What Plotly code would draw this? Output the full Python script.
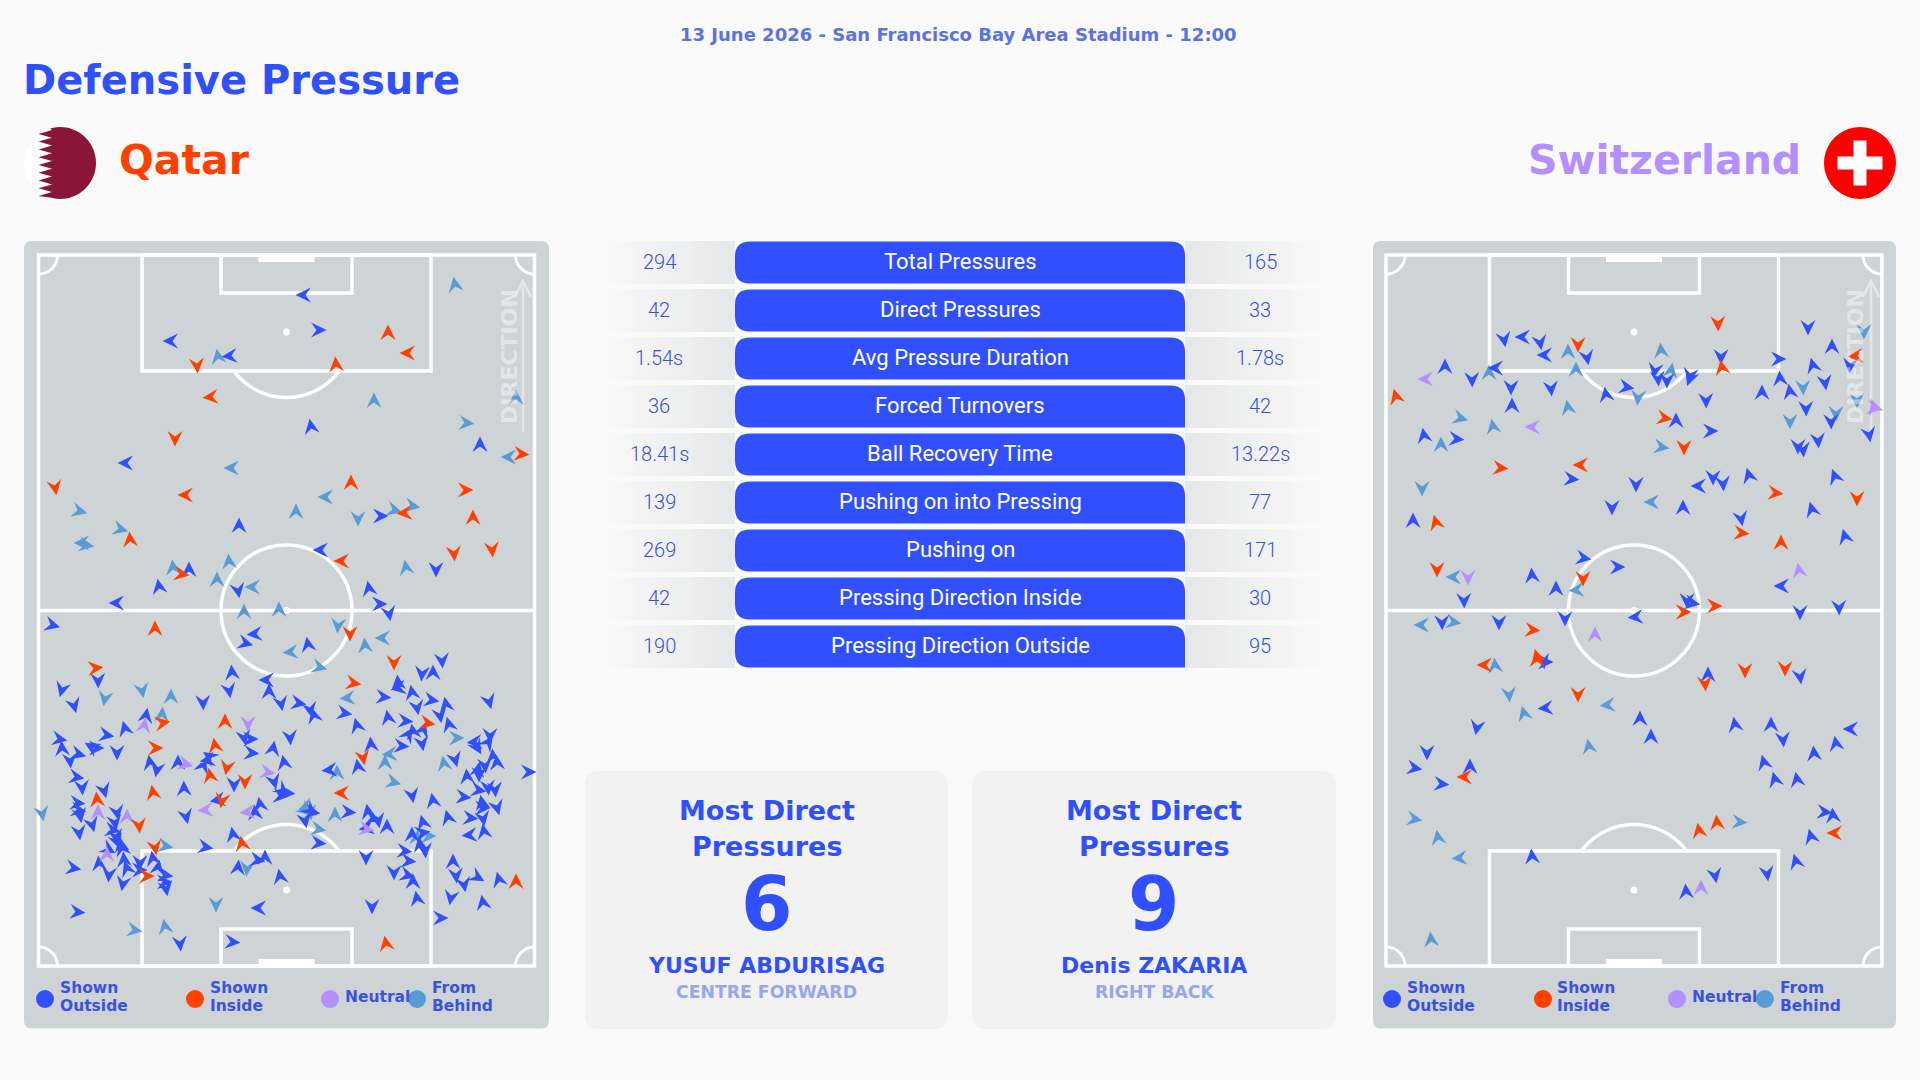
import math
import plotly.graph_objects as go

BG = "#fafafa"
BLUE = "#304ffe"
ORANGE = "#ff4000"
PURPLE = "#b48fff"
SKY = "#5b9bd5"
PANEL = "#ced3d5"
FADED = "#96a6ef"
WIDE = "DejaVu Sans"
NARROW = "Roboto"

match_line = "13 June 2026 - San Francisco Bay Area Stadium - 12:00"
chart_title = "Defensive Pressure"
team_home = "Qatar"
team_away = "Switzerland"

stat_names = ["Total Pressures", "Direct Pressures", "Avg Pressure Duration", "Forced Turnovers",
              "Ball Recovery Time", "Pushing on into Pressing", "Pushing on",
              "Pressing Direction Inside", "Pressing Direction Outside"]
stat_home = ["294", "42", "1.54s", "36", "18.41s", "139", "269", "42", "190"]
stat_away = ["165", "33", "1.78s", "42", "13.22s", "77", "171", "30", "95"]

card_title = ["Most Direct", "Pressures"]
card_values = ["6", "9"]
card_players = ["YUSUF ABDURISAG", "Denis ZAKARIA"]
card_roles = ["CENTRE FORWARD", "RIGHT BACK"]

# every pressure is (x, y, heading), heading in degrees: 0 up, 90 right
qatar_outside = [
    (304, 295, 270), (318, 330, 90), (171, 341, 270), (230, 356, 265), (311, 427, 350), (480, 445, 0),
    (126, 463, 270), (239, 526, 0), (321, 550, 270), (189, 570, 0), (159, 587, 350), (238, 590, 170),
    (117, 603, 270), (369, 589, 350), (379, 604, 90), (389, 613, 170), (436, 569, 180), (52, 625, 105),
    (255, 634, 265), (245, 643, 105), (308, 645, 350), (380, 516, 90),
    (98, 680, 178), (62, 689, 195), (74, 705, 165), (146, 716, 10), (125, 729, 345), (106, 735, 100),
    (59, 739, 100), (62, 749, 355), (70, 760, 175), (78, 754, 105), (92, 747, 300), (96, 748, 90),
    (117, 752, 180), (150, 763, 350), (157, 769, 190), (76, 777, 100), (82, 787, 175), (104, 790, 165),
    (77, 803, 95), (78, 810, 100), (80, 815, 170), (79, 832, 172), (92, 824, 165), (117, 812, 170),
    (115, 822, 170), (112, 830, 100), (116, 836, 170), (117, 841, 160), (121, 845, 350), (122, 849, 345),
    (108, 849, 120), (124, 860, 355), (127, 869, 340), (99, 864, 355), (109, 874, 185), (123, 883, 190),
    (140, 862, 180), (139, 870, 90), (153, 859, 350), (158, 868, 10), (165, 875, 100), (164, 882, 90),
    (166, 888, 170), (73, 868, 100), (77, 912, 95), (186, 816, 168), (184, 789, 358), (178, 763, 0),
    (208, 760, 260), (210, 757, 305), (203, 766, 20), (234, 784, 180), (218, 800, 260), (232, 673, 355),
    (229, 690, 170), (203, 702, 178), (267, 680, 270), (269, 692, 0), (281, 703, 170), (244, 737, 170),
    (250, 739, 90), (251, 753, 95), (273, 749, 10), (284, 763, 350), (274, 781, 165), (282, 790, 130),
    (287, 793, 95), (280, 796, 95), (260, 805, 350), (255, 813, 355), (233, 835, 350), (205, 847, 100),
    (238, 868, 5), (257, 860, 100), (265, 858, 0), (280, 877, 350), (259, 908, 270),
    (442, 660, 175), (422, 673, 185), (433, 673, 0), (398, 683, 355), (399, 688, 260), (412, 693, 350),
    (383, 697, 95), (431, 700, 100), (417, 707, 170), (446, 705, 350), (440, 715, 170), (489, 701, 165),
    (298, 703, 100), (310, 709, 170), (314, 716, 345), (344, 713, 100), (357, 726, 345), (290, 737, 175),
    (388, 718, 350), (405, 721, 95), (449, 725, 345), (408, 735, 30), (413, 732, 350), (423, 730, 20),
    (422, 743, 170), (401, 746, 95), (371, 745, 355), (358, 767, 350), (330, 770, 265), (455, 759, 165),
    (475, 742, 265), (477, 747, 150), (490, 735, 180), (488, 743, 35), (493, 757, 355), (497, 763, 355),
    (467, 777, 355), (478, 770, 10), (485, 765, 175), (479, 774, 180), (478, 790, 100), (488, 787, 175),
    (495, 789, 175), (463, 797, 95), (482, 803, 350), (482, 808, 90), (497, 807, 165), (470, 818, 95),
    (483, 818, 170), (484, 832, 350), (470, 835, 265), (448, 818, 345), (433, 801, 350), (412, 795, 170),
    (348, 812, 95), (368, 812, 350), (372, 818, 95), (378, 820, 170), (387, 827, 0), (367, 828, 260),
    (423, 823, 345), (412, 835, 0), (422, 833, 80), (425, 850, 175), (420, 845, 350), (404, 851, 95),
    (408, 861, 95), (394, 872, 180), (407, 875, 105), (413, 882, 0), (366, 857, 180), (318, 843, 95),
    (453, 862, 0), (456, 875, 175), (464, 884, 170), (477, 877, 120), (499, 880, 345), (417, 899, 350),
    (451, 897, 190), (483, 903, 350), (372, 906, 180), (440, 918, 90), (528, 772, 90), (310, 810, 130),
    (305, 820, 170), (312, 812, 100), (180, 943, 175), (232, 942, 95),
]
qatar_inside = [
    (197, 365, 175), (388, 333, 0), (408, 353, 270), (336, 365, 355), (211, 397, 265), (521, 454, 95),
    (175, 438, 180), (55, 487, 170), (186, 495, 270), (351, 483, 0), (465, 490, 90), (473, 518, 0),
    (405, 513, 265), (130, 540, 355), (342, 561, 270), (181, 574, 100), (454, 553, 175), (492, 549, 175),
    (155, 629, 0), (350, 633, 180),
    (95, 668, 85), (162, 723, 80), (225, 722, 0), (155, 748, 90), (215, 746, 350), (227, 767, 190),
    (210, 776, 350), (245, 781, 180), (153, 793, 350), (97, 800, 355), (222, 800, 190), (139, 825, 175),
    (155, 847, 170), (242, 844, 350), (146, 876, 90),
    (394, 662, 180), (353, 683, 100), (427, 723, 100), (363, 757, 170), (342, 793, 270), (516, 882, 0),
    (386, 944, 350),
]
qatar_neutral = [
    (144, 726, 10), (185, 764, 105), (267, 772, 100), (248, 723, 180), (206, 810, 265), (98, 813, 0),
    (127, 817, 0), (248, 812, 265), (107, 855, 0), (366, 829, 100),
]
qatar_behind = [
    (455, 285, 350), (218, 357, 350), (374, 401, 0), (516, 398, 0), (466, 423, 95), (509, 457, 270),
    (232, 468, 270), (326, 497, 270), (296, 512, 0), (358, 518, 180), (394, 510, 105), (412, 506, 100),
    (79, 511, 105), (120, 529, 105), (82, 543, 270), (86, 545, 100), (229, 562, 355), (173, 568, 355),
    (217, 580, 0), (253, 587, 270), (279, 610, 0), (244, 612, 0), (406, 568, 350), (338, 625, 185),
    (291, 652, 265), (365, 646, 355), (383, 638, 270),
    (105, 698, 190), (142, 690, 170), (171, 697, 0), (162, 715, 5), (42, 813, 170), (165, 846, 100),
    (247, 868, 185), (216, 904, 180), (134, 930, 100), (165, 927, 350),
    (319, 667, 105), (348, 698, 265), (456, 738, 90), (390, 754, 265), (385, 763, 0), (393, 782, 105),
    (444, 764, 350), (337, 773, 0), (305, 810, 130), (310, 812, 170), (306, 807, 250), (335, 815, 0),
    (318, 829, 100), (417, 838, 5), (428, 836, 90),
]

swiss_outside = [
    (1808, 327, 180), (1832, 347, 0), (1504, 339, 170), (1523, 337, 270), (1540, 342, 170), (1545, 355, 270),
    (1587, 357, 170), (1721, 356, 180), (1778, 359, 90), (1850, 365, 185), (1813, 366, 345), (1445, 367, 0),
    (1496, 368, 270), (1472, 379, 178), (1511, 387, 180), (1551, 388, 175), (1655, 370, 190), (1658, 378, 175),
    (1667, 380, 180), (1690, 375, 190), (1690, 378, 200), (1626, 387, 100), (1606, 395, 350), (1706, 400, 178),
    (1762, 393, 0), (1780, 379, 355), (1790, 392, 350), (1825, 382, 172), (1512, 406, 0), (1806, 408, 178),
    (1831, 421, 178), (1710, 431, 90), (1676, 421, 0), (1424, 436, 350), (1456, 439, 95), (1869, 434, 170),
    (1818, 440, 175), (1798, 446, 180), (1803, 449, 175), (1571, 479, 95), (1636, 484, 180), (1699, 486, 270),
    (1713, 477, 180), (1723, 483, 175), (1749, 476, 345), (1835, 477, 340), (1612, 507, 180), (1683, 508, 0),
    (1812, 510, 345), (1741, 518, 170), (1413, 521, 0), (1845, 537, 345), (1782, 586, 270), (1583, 558, 100),
    (1617, 567, 90), (1532, 576, 355), (1556, 589, 0), (1464, 600, 178), (1687, 600, 180), (1692, 603, 100),
    (1636, 617, 265), (1839, 607, 178), (1800, 612, 180), (1442, 622, 178), (1499, 622, 180), (1565, 618, 180),
    (1545, 662, 90), (1543, 661, 170), (1708, 675, 0), (1800, 676, 172), (1546, 708, 265), (1640, 719, 0),
    (1651, 737, 0), (1477, 727, 190), (1735, 725, 350), (1771, 725, 0), (1783, 739, 175), (1851, 729, 270),
    (1836, 744, 350), (1814, 754, 355), (1764, 763, 345), (1775, 780, 345), (1797, 780, 350), (1427, 752, 180),
    (1414, 768, 100), (1470, 767, 0), (1441, 784, 95), (1824, 812, 95), (1833, 816, 355), (1811, 837, 345),
    (1532, 857, 355), (1796, 862, 345), (1767, 873, 172), (1715, 875, 170), (1686, 892, 355),
]
swiss_inside = [
    (1718, 323, 178), (1578, 344, 180), (1722, 368, 350), (1856, 356, 265), (1396, 397, 345), (1664, 418, 100),
    (1684, 447, 180), (1500, 468, 95), (1581, 465, 270), (1775, 493, 95), (1857, 498, 180), (1741, 533, 95),
    (1436, 523, 345), (1781, 543, 0), (1437, 569, 180), (1583, 578, 180), (1714, 606, 90), (1683, 612, 90),
    (1532, 630, 95), (1485, 665, 270), (1537, 657, 345), (1537, 660, 0), (1705, 683, 175), (1745, 670, 180),
    (1785, 668, 180), (1578, 694, 180), (1465, 777, 270), (1835, 833, 270), (1717, 823, 355), (1699, 831, 350),
]
swiss_neutral = [
    (1426, 379, 270), (1874, 407, 340), (1874, 408, 100), (1533, 427, 270), (1799, 571, 350), (1468, 577, 180),
    (1595, 635, 0), (1701, 888, 0),
]
swiss_behind = [
    (1864, 331, 180), (1568, 352, 0), (1661, 351, 355), (1489, 373, 0), (1576, 370, 0), (1671, 371, 10),
    (1638, 397, 185), (1803, 387, 178), (1857, 400, 178), (1568, 408, 350), (1836, 413, 180), (1790, 421, 180),
    (1661, 447, 100), (1460, 418, 105), (1493, 427, 350), (1441, 445, 0), (1422, 488, 180), (1652, 502, 270),
    (1454, 577, 270), (1577, 590, 265), (1422, 625, 270), (1453, 622, 100), (1495, 666, 355), (1509, 694, 175),
    (1524, 714, 345), (1608, 705, 265), (1589, 747, 350), (1739, 822, 95), (1414, 819, 100), (1438, 838, 350),
    (1460, 858, 265), (1431, 940, 355),
]

legend_names = [["Shown", "Outside"], ["Shown", "Inside"], ["Neutral"], ["From", "Behind"]]
legend_colors = [BLUE, ORANGE, PURPLE, SKY]
legend_dots_home = [45, 195, 330, 417]
legend_text_home = [58, 208, 343, 430]
legend_dots_away = [1392, 1543, 1677, 1765]
legend_text_away = [1405, 1555, 1690, 1778]


def dart_trace(points, color):
    xs, ys = [], []
    for x, y, h in points:
        a = math.radians(h)
        for f, r in [(8.5, 0), (-7, -7.5), (-1.5, 0), (-7, 7.5), (8.5, 0)]:
            xs.append(x + f * math.sin(a) + r * math.cos(a))
            ys.append(y - f * math.cos(a) + r * math.sin(a))
        xs.append(None)
        ys.append(None)
    return go.Scatter(x=xs, y=ys, mode="lines", fill="toself", fillcolor=color,
                      line=dict(width=0, color=color), hoverinfo="skip", showlegend=False)


def arc(cx, cy, r, a0, a1):
    out = []
    for i in range(41):
        a = math.radians(a0 + (a1 - a0) * i / 40)
        out.append(f"{'L' if i else 'M'}{cx + r * math.cos(a):.2f},{cy + r * math.sin(a):.2f}")
    return " ".join(out)


shapes = []
annotations = []


def rect(x0, y0, x1, y1, fill, line=None, lw=0):
    shapes.append(dict(type="rect", x0=x0, y0=y0, x1=x1, y1=y1, fillcolor=fill, layer="below",
                       line=dict(color=line or fill, width=lw)))


def path(d, fill=None, line=None, lw=0):
    s = dict(type="path", path=d, layer="below", line=dict(color=line or "rgba(0,0,0,0)", width=lw))
    if fill:
        s["fillcolor"] = fill
    shapes.append(s)


def rounded(x0, y0, x1, y1, r, fill):
    path(f"M{x0 + r},{y0} L{x1 - r},{y0} Q{x1},{y0} {x1},{y0 + r} L{x1},{y1 - r} Q{x1},{y1} {x1 - r},{y1} "
         f"L{x0 + r},{y1} Q{x0},{y1} {x0},{y1 - r} L{x0},{y0 + r} Q{x0},{y0} {x0 + r},{y0} Z", fill=fill)


def label(x, y, text, size, color, family=WIDE, weight=700, anchor="center"):
    annotations.append(dict(x=x, y=y, text=text, showarrow=False, xanchor=anchor, yanchor="middle",
                            xref="x", yref="y", align="left" if anchor == "left" else "center",
                            font=dict(family=family, size=size, color=color, weight=weight)))


def pitch(cx, pl, pr, dir_text_x, dir_arrow_x):
    white = "#ffffff"
    lw = 3.5
    top, bot, mid = 255, 966, 610.5
    rounded(pl, 241, pr, 1028.5, 8, PANEL)
    x0, x1 = cx - 248, cx + 248
    rect(x0, top, x1, bot, "rgba(0,0,0,0)", white, lw)
    shapes.append(dict(type="line", x0=x0, x1=x1, y0=mid, y1=mid, layer="below", line=dict(color=white, width=lw)))
    shapes.append(dict(type="circle", x0=cx - 65.5, x1=cx + 65.5, y0=mid - 65.5, y1=mid + 65.5, layer="below",
                       line=dict(color=white, width=lw)))
    for y0, y1 in [(top, 371), (851, bot)]:
        rect(cx - 144.5, y0, cx + 144.5, y1, "rgba(0,0,0,0)", white, lw)
    for y0, y1 in [(top, 293), (929, bot)]:
        rect(cx - 65.5, y0, cx + 65.5, y1, "rgba(0,0,0,0)", white, lw)
    rect(cx - 28, top, cx + 28, top + 7, white)
    rect(cx - 28, bot - 7, cx + 28, bot, white)
    path(arc(cx, 332, 65.5, 36.2, 143.8), line=white, lw=lw)
    path(arc(cx, 890, 65.5, 216.2, 323.8), line=white, lw=lw)
    for sp in [332, 890, mid]:
        shapes.append(dict(type="circle", x0=cx - 3.5, x1=cx + 3.5, y0=sp - 3.5, y1=sp + 3.5, layer="below",
                           fillcolor=white, line=dict(width=0)))
    path(arc(x0, top, 19, 0, 90), line=white, lw=lw - 0.5)
    path(arc(x1, top, 19, 90, 180), line=white, lw=lw - 0.5)
    path(arc(x0, bot, 19, 270, 360), line=white, lw=lw - 0.5)
    path(arc(x1, bot, 19, 180, 270), line=white, lw=lw - 0.5)
    pale = "rgba(255,255,255,0.45)"
    path(f"M{dir_arrow_x},432 L{dir_arrow_x},281 M{dir_arrow_x - 8},297 L{dir_arrow_x},281 L{dir_arrow_x + 8},297",
         line=pale, lw=2.5)
    annotations.append(dict(x=dir_text_x, y=357, text="DIRECTION", textangle=-90, showarrow=False,
                            font=dict(family=WIDE, size=22, color=pale, weight=700),
                            xanchor="center", yanchor="middle", xref="x", yref="y"))


def mix(t):
    # row background colour, t = 0 at the page colour, 1 next to the bar
    a, b = (250, 250, 250), (231, 232, 233)
    return "rgb(%d,%d,%d)" % tuple(round(p + (q - p) * t) for p, q in zip(a, b))


# header
label(958, 34, match_line, 18, "#5b72e6")
label(21, 80, chart_title, 40, BLUE, anchor="left")
label(117, 160, team_home, 41, ORANGE, anchor="left")
label(1803, 160, team_away, 41, PURPLE, anchor="right")

# flags
path(arc(60, 163, 36, 0, 360) + " Z", fill="#ffffff")
teeth = []
for i in range(18):
    teeth.append(f"L{52 if i % 2 == 0 else 38.5},{130 + i * 66 / 17:.1f}")
path(arc(60, 163, 36, -106, 106) + " " + " ".join(reversed(teeth)) + " Z", fill="#8a1538")
path(arc(1860, 163, 36, 0, 360) + " Z", fill="#ff0000")
rect(1837.5, 156.5, 1882.5, 169.5, "#ffffff")
rect(1853.5, 140.5, 1866.5, 185.5, "#ffffff")

# stats table
for i, name in enumerate(stat_names):
    y0 = 241.5 + i * 48
    y1 = y0 + 42
    for k in range(16):
        t = (k + 1) / 16
        rect(600 + k * 135 / 16, y0, 735, y1, mix(t))
        rect(1185, y0, 1325 - k * 140 / 16, y1, mix(t))
    path(f"M750,{y0} L1171,{y0} Q1185,{y0} 1185,{y0 + 14} L1185,{y1} L750,{y1} Q735,{y1} 735,{y1 - 15} "
         f"L735,{y0 + 15} Q735,{y0} 750,{y0} Z", fill=BLUE)
    label(960, y0 + 19.5, name, 22, "#ffffff", NARROW, 400)
    label(659, y0 + 20, stat_home[i], 20, "#3850e0", NARROW, 300)
    label(1260, y0 + 20, stat_away[i], 20, "#3850e0", NARROW, 300)

# player cards
for i, (x0, x1) in enumerate([(585, 948), (972, 1336)]):
    rounded(x0, 771, x1, 1029, 14, "#f2f2f3")
    cx = (x0 + x1) / 2
    label(cx, 810, card_title[0], 27, BLUE)
    label(cx, 846, card_title[1], 27, BLUE)
    label(cx, 904, card_values[i], 74, BLUE)
    label(cx, 965, card_players[i], 22, BLUE)
    label(cx, 992, card_roles[i], 17.3, FADED)

# pitches
pitch(286.5, 24, 549, 509, 523)
pitch(1634, 1373, 1896, 1855, 1871)

for dots, texts in [(legend_dots_home, legend_text_home), (legend_dots_away, legend_text_away)]:
    for dx, tx, lines, col in zip(dots, texts, legend_names, legend_colors):
        shapes.append(dict(type="circle", x0=dx - 9, x1=dx + 9, y0=990, y1=1008, layer="below",
                           fillcolor=col, line=dict(width=0)))
        if len(lines) == 1:
            label(tx, 997, lines[0], 15.5, "#3a52e0", anchor="left")
        else:
            label(tx, 988, lines[0], 15.5, "#3a52e0", anchor="left")
            label(tx, 1006, lines[1], 15.5, "#3a52e0", anchor="left")

fig = go.Figure()
for pts, col in [(qatar_behind, SKY), (qatar_outside, BLUE), (qatar_neutral, PURPLE), (qatar_inside, ORANGE),
                 (swiss_behind, SKY), (swiss_outside, BLUE), (swiss_neutral, PURPLE), (swiss_inside, ORANGE)]:
    fig.add_trace(dart_trace(pts, col))

fig.update_xaxes(range=[0, 1920], visible=False, fixedrange=True)
fig.update_yaxes(range=[1080, 0], visible=False, fixedrange=True)
fig.update_layout(width=1920, height=1080, margin=dict(l=0, r=0, t=0, b=0), paper_bgcolor=BG, plot_bgcolor=BG,
                  shapes=shapes, annotations=annotations, showlegend=False, hovermode=False)
fig.write_html("out.html", config={"displayModeBar": False},
               post_script="document.body.style.margin='0';document.body.style.overflow='hidden';")
